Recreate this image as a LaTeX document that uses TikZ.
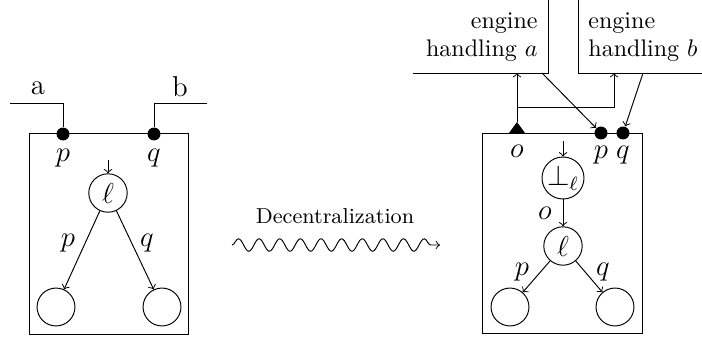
\documentclass[tikz,border=0pt]{standalone}
\usetikzlibrary{decorations.pathmorphing}
\begin{document}
\begin{tikzpicture}[x=0.41667pt,y=-0.41667pt,
  state/.style={draw,circle,inner sep=0pt,minimum size=16pt,font=\large},
  bigstate/.style={draw,circle,inner sep=0pt,minimum size=17.5pt,font=\large},
  port/.style={circle,fill,inner sep=0pt,minimum size=5.4pt},
  lbl/.style={inner sep=0pt,font=\large},
  comp/.style={draw,inner sep=0pt,minimum width=66.6pt,minimum height=83.4pt},
  arr/.style={->}]
\useasboundingbox (0,0) rectangle (702,338);
% ---------- left ----------
\node[comp] (B1) at (109,234) {};
\node[port] (p1) at (63,134) {};
\node[port] (q1) at (154,134) {};
\coordinate (a1) at (10,103);
\coordinate (b1) at (207,103);
\draw (a1) -| (p1);
\draw (b1) -| (q1);
\node[inner sep=0pt,font=\large] (la) at (38,88) {a};
\node[inner sep=0pt,font=\large] (lb) at (180,87) {b};
\node[lbl] (lp1) at (63,158) {$p$};
\node[lbl] (lq1) at (154,158) {$q$};
\node[state] (l1) at (108,193) {$\ell$};
\coordinate (in1) at (108,160);
\draw[arr] (in1) -- (l1);
\node[state,minimum size=15.8pt] (c1) at (56,307) {};
\node[state,minimum size=15.8pt] (c2) at (162,307) {};
\draw[arr] (l1) -- (c1);
\draw[arr] (l1) -- (c2);
\node[lbl] (ep1) at (68,243) {$p$};
\node[lbl] (eq1) at (147,243) {$q$};
% ---------- middle ----------
\node[inner sep=0pt] (dec) at (335,216) {\small Decentralization};
\coordinate (w1) at (232,245);
\coordinate (w2) at (440,245);
\draw[->,decorate,decoration={snake,amplitude=2.6pt,segment length=8.6pt,post length=1.5pt}] (w1) -- (w2);
% ---------- right ----------
\node[comp] (B2) at (562.5,233.5) {};
\node[port] (p2) at (601,133) {};
\node[port] (q2) at (623,133) {};
\coordinate (o2) at (517,122);
\fill (o2) -- ++(8,11) -- ++(-16,0) -- cycle;
\node[lbl] (lo2) at (517,151) {$o$};
\node[lbl] (lp2) at (601,155) {$p$};
\node[lbl] (lq2) at (623,155) {$q$};
\node[bigstate] (bot) at (563,178) {$\bot_\ell$};
\coordinate (in2) at (563,141);
\draw[arr] (in2) -- (bot);
\node[state] (l2) at (563,246) {$\ell$};
\draw[arr] (bot) -- (l2);
\node[lbl] (eo2) at (545,213) {$o$};
\node[state,minimum size=15.8pt] (c3) at (510,307) {};
\node[state,minimum size=15.8pt] (c4) at (615,307) {};
\draw[arr] (l2) -- (c3);
\draw[arr] (l2) -- (c4);
\node[lbl] (ep2) at (522,272) {$p$};
\node[lbl] (eq2) at (603,272) {$q$};
% engines
\coordinate (EA1) at (413,73);
\coordinate (EA2) at (548,73);
\coordinate (EA3) at (548,0);
\draw (EA1) -- (EA2) -- (EA3);
\coordinate (EB1) at (578,0);
\coordinate (EB2) at (578,73);
\coordinate (EB3) at (702,73);
\draw (EB1) -- (EB2) -- (EB3);
\node[align=right,anchor=east,inner sep=0pt] (ea) at (538,37) {engine\\handling $a$};
\node[align=left,anchor=west,inner sep=0pt] (eb) at (588,37) {engine\\handling $b$};
\coordinate (ta) at (517,73);
\coordinate (br) at (517,107);
\coordinate (tb) at (614,73);
\coordinate (sa) at (542,73);
\coordinate (sb) at (643,73);
\draw[arr] (o2) -- (ta);
\draw[arr] (br) -| (tb);
\draw[arr] (sa) -- (p2);
\draw[arr] (sb) -- (q2);
\end{tikzpicture}
\end{document}
